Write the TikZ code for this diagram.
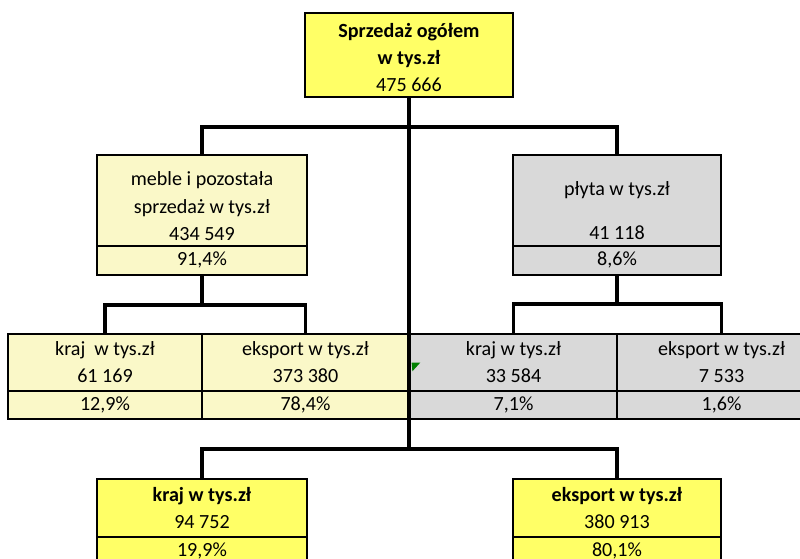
\documentclass[tikz,border=0pt]{standalone}
\usepackage{fontspec}
\setmainfont{Carlito}
\usepackage{tikz}
\usetikzlibrary{positioning,calc}
\definecolor{topyellow}{RGB}{255,255,102}
\definecolor{paleyellow}{RGB}{250,248,200}
\definecolor{cellgray}{RGB}{217,217,217}

\begin{document}
\begin{tikzpicture}[
    box/.style={draw=black, line width=1.5pt, inner sep=0pt, outer sep=0pt,
      align=center, font=\fontsize{14.3}{19.3}\selectfont},
    pct/.style={box, minimum height=0.72cm},
    conn/.style={line width=2.4pt}
  ]
    % fix the page size (800 x 559)
    \clip (0,0) rectangle (20,-13.975);

    % the top box
    \node[box, fill=topyellow, minimum width=5.2cm, minimum height=2.1cm] (top) at (10.225,-1.375)
      {\rule{0pt}{14pt}\textbf{Sprzedaż ogółem}\\\textbf{w tys.zł}\\475 666};

    % second level
    \node[box, fill=paleyellow, minimum width=5.25cm, minimum height=2.275cm] (meble) at (5.05,-5.0125)
      {\rule{0pt}{18pt}meble i pozostała\\sprzedaż w tys.zł\\434 549};
    \node[pct, fill=paleyellow, minimum width=5.25cm, below=0pt of meble] (mebleP) {91,4\%};
    \node[box, fill=cellgray, minimum width=5.2cm, minimum height=2.275cm] (plyta) at (15.425,-5.0125)
      {\rule{0pt}{24pt}płyta w tys.zł\\[12pt]41 118};
    \node[pct, fill=cellgray, minimum width=5.2cm, below=0pt of plyta] (plytaP) {8,6\%};

    % third level (the row of four cells)
    \node[box, fill=paleyellow, minimum width=4.85cm, minimum height=1.425cm] (kraj1) at (2.625,-9.0625)
      {kraj\ \ w tys.zł\\61 169};
    \node[pct, fill=paleyellow, minimum width=4.85cm, minimum height=0.7cm, below=0pt of kraj1] (kraj1P) {12,9\%};
    \node[box, fill=paleyellow, minimum width=5.175cm, minimum height=1.425cm] (eks1) at (7.6375,-9.0625)
      {eksport w tys.zł\\373 380};
    \node[pct, fill=paleyellow, minimum width=5.175cm, minimum height=0.7cm, below=0pt of eks1] (eks1P) {78,4\%};
    \node[box, fill=cellgray, minimum width=5.175cm, minimum height=1.425cm] (kraj2) at (12.8375,-9.0625)
      {kraj w tys.zł\\33 584};
    \node[pct, fill=cellgray, minimum width=5.175cm, minimum height=0.7cm, below=0pt of kraj2] (kraj2P) {7,1\%};
    \node[box, fill=cellgray, minimum width=5.225cm, minimum height=1.425cm] (eks2) at (18.04,-9.0625)
      {eksport w tys.zł\\7 533};
    \node[pct, fill=cellgray, minimum width=5.225cm, minimum height=0.7cm, below=0pt of eks2] (eks2P) {1,6\%};

    % the green mark in the grey cell
    \fill[green!50!black] ($(kraj2.west)+(0.04,0)$) -- ++(0.22,0) -- ++(-0.2,-0.22) -- cycle;

    % bottom level
    \node[box, fill=topyellow, minimum width=5.25cm, minimum height=1.45cm] (krajB) at (5.05,-12.7)
      {\textbf{kraj w tys.zł}\\94 752};
    \node[pct, fill=topyellow, minimum width=5.25cm, below=0pt of krajB] (krajBP) {19,9\%};
    \node[box, fill=topyellow, minimum width=5.2cm, minimum height=1.45cm] (eksB) at (15.425,-12.7)
      {\textbf{eksport w tys.zł}\\380 913};
    \node[pct, fill=topyellow, minimum width=5.2cm, below=0pt of eksB] (eksBP) {80,1\%};

    % the junctions of the connectors
    \coordinate (j1) at (10.225,-3.175);
    \coordinate (j2) at (5.05,-7.625);
    \coordinate (j3) at (15.425,-7.6);
    \coordinate (j4) at (10.225,-11.225);

    % draw the connectors
    \draw[conn] (top.south) -- (j4);
    \draw[conn] (meble.north) |- (j1) -| (plyta.north);
    \draw[conn] (mebleP.south) -- (j2);
    \draw[conn] (kraj1.north) |- (j2) -| (eks1.north);
    \draw[conn] (plytaP.south) -- (j3);
    \draw[conn] (kraj2.north) |- (j3) -| (eks2.north);
    \draw[conn] (krajB.north) |- (j4) -| (eksB.north);
\end{tikzpicture}
\end{document}
